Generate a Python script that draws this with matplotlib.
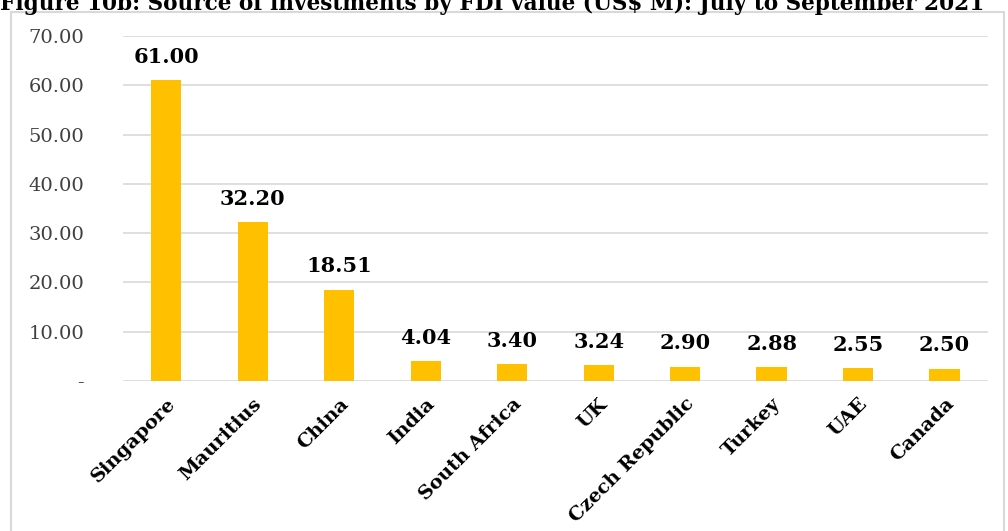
import matplotlib
matplotlib.use("Agg")
import matplotlib.pyplot as plt
from matplotlib.patches import Rectangle

countries = ["Singapore", "Mauritius", "China", "India", "South Africa",
             "UK", "Czech Republic", "Turkey", "UAE", "Canada"]
fdi_value = [61.00, 32.20, 18.51, 4.04, 3.40, 3.24, 2.90, 2.88, 2.55, 2.50]
y_ticks = [0, 10, 20, 30, 40, 50, 60, 70]

plt.rcParams['font.family'] = ['DejaVu Serif']

fig = plt.figure(figsize=(10.08, 5.31), dpi=100)
ax = fig.add_axes([0.122, 0.2825, 0.858, 0.6495])

# outer chart frame
fig.patches.append(Rectangle((0.011, -0.01), 0.985, 0.987, transform=fig.transFigure,
                             fill=False, edgecolor="#d9d9d9", linewidth=1.5))

# title sits partly above the canvas edge
fig.text(0.0, 0.992, "Figure 10b: Source of investments by FDI value (US$ M): July to September 2021",
         fontsize=15.6, fontweight="bold", ha="left", va="center")

x = range(len(countries))
bars = ax.bar(x, fdi_value, width=0.35, color="#FFC000", zorder=3)
for xi, v in zip(x, fdi_value):
    ax.text(xi, v + 2.7, f"{v:.2f}", ha="center", va="bottom",
            fontsize=15, fontweight="bold", color="black")

ax.set_xlim(-0.5, len(countries) - 0.5)
ax.set_ylim(0, 70)
ax.set_yticks(y_ticks)
ax.set_yticklabels(["-" if t == 0 else f"{t:.2f}" for t in y_ticks],
                   fontsize=14, color="#404040")
ax.tick_params(axis="y", length=0, pad=28)
ax.grid(axis="y", color="#d9d9d9", linewidth=1.2, zorder=0)

ax.set_xticks(list(x))
ax.set_xticklabels(countries, rotation=45, ha="right", rotation_mode="anchor",
                   fontsize=14, fontweight="bold")
ax.tick_params(axis="x", length=0, pad=10)

for s in ax.spines.values():
    s.set_visible(False)

fig.savefig("out.png", dpi=100)
